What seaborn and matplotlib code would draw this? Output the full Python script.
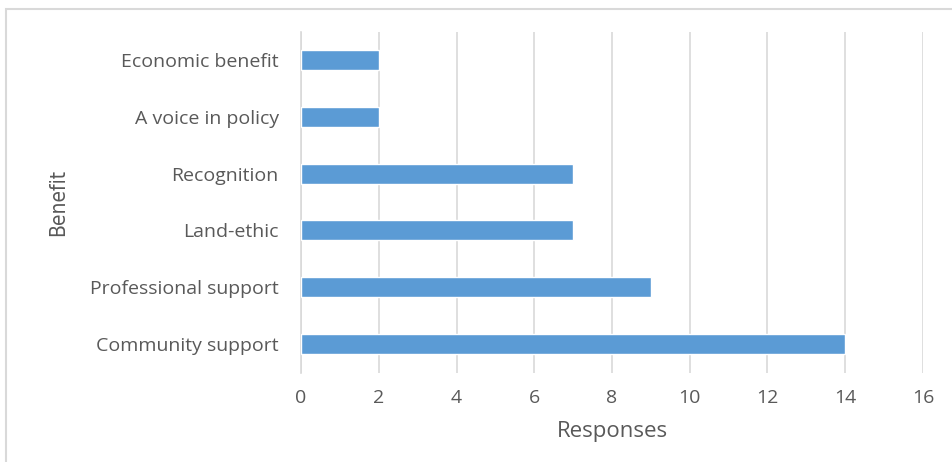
import matplotlib
matplotlib.use("Agg")
import matplotlib.pyplot as plt
import seaborn as sns
import pandas as pd
from matplotlib.patches import Rectangle

categories = ["Economic benefit", "A voice in policy", "Recognition", "Land-ethic",
              "Professional support", "Community support"]
responses = [2, 2, 7, 7, 9, 14]
xticks = [0, 2, 4, 6, 8, 10, 12, 14, 16]

df = pd.DataFrame({"Benefit": categories, "Responses": responses})

sns.set_theme(style="white")
plt.rcParams['font.family'] = ['Open Sans', 'DejaVu Sans']

W, H = 953, 462
fig = plt.figure(figsize=(W / 100, H / 100), dpi=100)
ax = fig.add_axes([301 / W, 1 - 372.5 / H, (923 - 301) / W, (372.5 - 31.5) / H])

sns.barplot(data=df, x="Responses", y="Benefit", orient="h", color="#5B9BD5",
            saturation=1, width=0.35, ax=ax, zorder=3)

ax.set_xlim(0, 16)
ax.set_xticks(xticks)
ax.set_xticklabels([str(t) for t in xticks])
ax.grid(axis="x", color="#D9D9D9", linewidth=1.2, zorder=0)
ax.grid(axis="y", visible=False)
for s in ["top", "right", "bottom"]:
    ax.spines[s].set_visible(False)
ax.spines["left"].set_color("#D9D9D9")
ax.spines["left"].set_linewidth(1.2)
ax.tick_params(axis="both", length=0, colors="#595959", labelsize=14)
ax.tick_params(axis="x", pad=12)
ax.tick_params(axis="y", pad=16)
ax.set_xlabel("Responses", fontsize=16, color="#595959", labelpad=10)
ax.set_ylabel("Benefit", fontsize=15, color="#595959", labelpad=16,
              family=["DejaVu Sans"], fontstretch="condensed")

fig.patches.append(Rectangle((6 / W, -0.05), 1, 1.05 - 9 / H, transform=fig.transFigure,
                             fill=False, edgecolor="#D9D9D9", linewidth=1.5, zorder=0))

fig.savefig("out.png", dpi=100)
